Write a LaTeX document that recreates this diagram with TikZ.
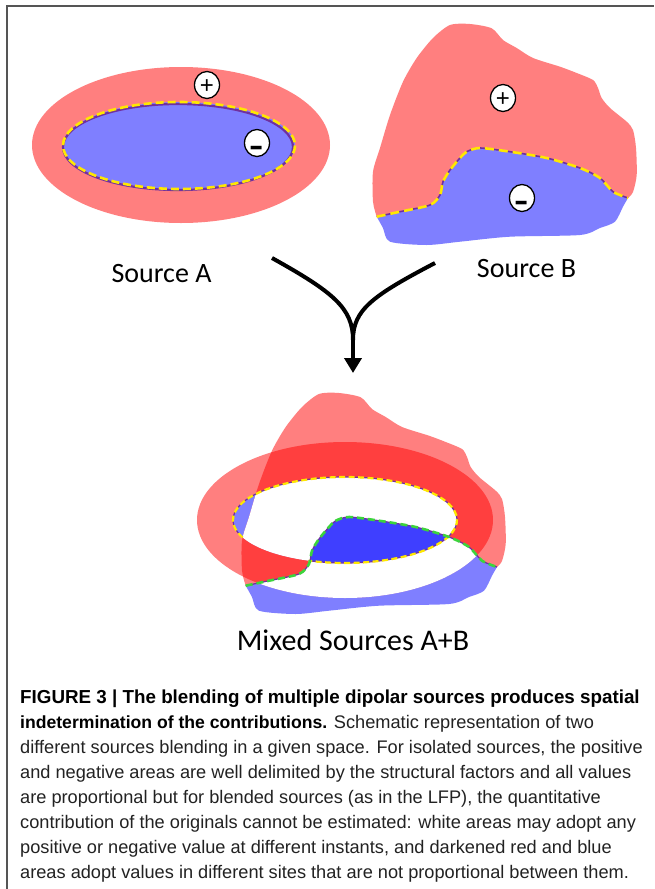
\documentclass[tikz,border=0pt]{standalone}
\usepackage{fontspec}
\usepackage{graphicx}
\usetikzlibrary{arrows.meta,shapes.geometric}
\newfontfamily\lblfont{Carlito}
\newfontfamily\capfont{Liberation Sans}
\definecolor{lred}{HTML}{FF7F7F}
\definecolor{lblue}{HTML}{7F7FFF}
\definecolor{dashy}{HTML}{FFE800}
\definecolor{dashg}{HTML}{3CD43C}
\definecolor{purp}{HTML}{7030A0}
\definecolor{framegray}{HTML}{555555}
\definecolor{captxt}{HTML}{222222}
% source B outline pieces
\newcommand\PathBred{plot[smooth,tension=.45] coordinates {(376.7,216.7) (373,201.7) (373,171.7) (380,148) (390,115) (403,81.7) (416.7,58) (433,38) (450,25) (470,24) (491.7,28.3) (503,40) (516.7,48) (533,58) (560,66.7) (576.7,73) (593,80) (598,88) (601.7,98) (610,108) (626.7,121.7) (633,130) (636,148) (636.7,175) (633,192) (628,198)} -- plot[smooth,tension=.45] coordinates {(628,198) (613,191.7) (600,178) (580,168) (546.7,158) (510,151.7) (480,148) (466.7,151.7) (460,158) (450,170) (443,181.7) (440,195) (430,205) (400,211.7) (376.7,216.7)} -- cycle}
\newcommand\PathBdiv{plot[smooth,tension=.45] coordinates {(376.7,216.7) (400,211.7) (430,205) (440,195) (443,181.7) (450,170) (460,158) (466.7,151.7) (480,148) (510,151.7) (546.7,158) (580,168) (600,178) (613,191.7) (628,198)}}
\newcommand\PathBblue{\PathBdiv -- plot[smooth,tension=.45] coordinates {(628,198) (623,206.7) (615,221.7) (600,228) (580,235) (510,236.7) (460,241.7) (426.7,245) (390,241.7) (383,228) (376.7,216.7)} -- cycle}
\begin{document}
\begin{tikzpicture}[x=1pt,y=-1pt,
  lbl/.style={font=\lblfont\fontsize{28}{28}\selectfont, text=black, inner sep=0pt, anchor=base},
  sign/.style={ellipse, draw=black, fill=white, line width=1.3pt, minimum width=25pt, minimum height=27pt, inner sep=0pt},
  plusglyph/.style={font=\capfont\fontsize{24}{24}\selectfont, inner sep=0pt, anchor=base},
  minusglyph/.style={font=\capfont\bfseries\fontsize{22}{22}\selectfont, inner sep=0pt, anchor=base},
  ydashA/.style={draw=dashy, line width=2.6pt, dash pattern=on 8pt off 4pt},
  ydashM/.style={draw=dashy, line width=2.2pt, dash pattern=on 6pt off 3.5pt},
  gdashM/.style={draw=dashg, line width=2.6pt, dash pattern=on 7pt off 4pt},
  purpline/.style={draw=purp, line width=1.6pt},
  flow/.style={draw=black, line width=4pt},
  capline/.style={font=\capfont\fontsize{18.2}{25}\selectfont, text=captxt, inner sep=0pt, anchor=base west},
  ]
\useasboundingbox (0,0) rectangle (654,889);
\fill[white] (0,0) rectangle (654,889);
\draw[framegray, line width=1.5pt] (7,889) -- (7,6) -- (654,6);

% ---------- Source A ----------
\fill[lred] (181,145) ellipse[x radius=149, y radius=78];
\fill[lblue] (179,145.5) ellipse[x radius=116, y radius=43.5];
\draw[purp, line width=2.2pt] (178,147) ellipse[x radius=115, y radius=43];
\draw[ydashA] (179,145.5) ellipse[x radius=116, y radius=43.5];
\node[sign] (pA) at (207,85) {};
\node[plusglyph] (pAt) at (207,93.3) {+};
\node[sign] (mA) at (257,143) {};
\node[minusglyph] (mAt) at (257,157) {\scalebox{1}[1.6]{–}};

% ---------- Source B ----------
\fill[lred] \PathBred;
\fill[lblue] \PathBblue;
\draw[purpline] \PathBdiv;
\draw[ydashA, dash pattern=on 9pt off 5pt] \PathBdiv;
\node[sign] (pB) at (503,98) {};
\node[plusglyph] (pBt) at (503,106.3) {+};
\node[sign] (mB) at (522,198) {};
\node[minusglyph] (mBt) at (522,212) {\scalebox{1}[1.6]{–}};

% ---------- labels ----------
\node[lbl] (srcA) at (161.5,282) {Source A};
\node[lbl] (srcB) at (526.5,277) {Source B};
\node[lbl, font=\lblfont\fontsize{30}{30}\selectfont] (mix) at (353,650) {Mixed Sources A+B};

% ---------- merging arrow ----------
\coordinate (armA) at (272,258);
\coordinate (armB) at (435,263);
\coordinate (merge) at (353,340);
\coordinate (tip) at (353,373);
\draw[flow] (armA) .. controls (333,292) and (353,308) .. (merge);
\draw[flow] (armB) .. controls (372,296) and (353,310) .. (merge);
\draw[flow, -{Triangle[length=15pt,width=17pt]}] ([yshift=1pt]merge) -- (tip);

% ---------- Mixed A+B ----------
\begin{scope}[fill opacity=0.5]
  \fill[red, even odd rule] (345,520) ellipse[x radius=148, y radius=78] (345,520) ellipse[x radius=112, y radius=43];
  \fill[blue] (345,520) ellipse[x radius=112, y radius=43];
  \fill[red, shift={(-131,369)}] \PathBred;
  \fill[blue, shift={(-131,369)}] \PathBblue;
\end{scope}
\begin{scope}
  \clip[shift={(-131,369)}] \PathBred;
  \fill[white] (345,520) ellipse[x radius=112, y radius=43];
\end{scope}
\begin{scope}
  \clip[shift={(-131,369)}] \PathBblue;
  \fill[white, even odd rule] (345,520) ellipse[x radius=148, y radius=78] (345,520) ellipse[x radius=112, y radius=43];
\end{scope}
\draw[purpline, line width=1.2pt] ([shift={(156:112 and 43)}]345,520) arc[start angle=156, end angle=469, x radius=112, y radius=43];
\draw[ydashM] ([shift={(156:112 and 43)}]345,520) arc[start angle=156, end angle=469, x radius=112, y radius=43];
\draw[purpline, line width=1.2pt, shift={(-131,369)}] \PathBdiv;
\draw[gdashM, shift={(-131,369)}] \PathBdiv;

% ---------- caption ----------
\node[capline, font=\capfont\bfseries\fontsize{18.8}{25}\selectfont, text=black] (c1) at (20,703) {FIGURE 3 | The blending of multiple dipolar sources produces spatial};
\node[capline] (c2) at (20,728) {{\bfseries\color{black}\fontsize{17.6}{25}\selectfont indetermination of the contributions.} Schematic representation of two};
\node[capline] (c3) at (20,753) {different sources blending in a given space. For isolated sources, the positive};
\node[capline] (c4) at (20,778) {and negative areas are well delimited by the structural factors and all values};
\node[capline] (c5) at (20,803) {are proportional but for blended sources (as in the LFP), the quantitative};
\node[capline] (c6) at (20,828) {contribution of the originals cannot be estimated: white areas may adopt any};
\node[capline] (c7) at (20,853) {positive or negative value at different instants, and darkened red and blue};
\node[capline] (c8) at (20,878) {areas adopt values in different sites that are not proportional between them.};
\end{tikzpicture}
\end{document}
